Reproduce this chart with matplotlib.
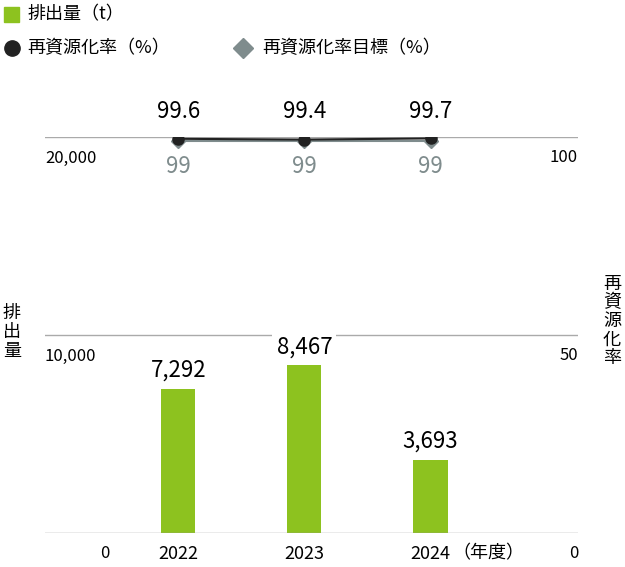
import matplotlib
matplotlib.use("Agg")
import matplotlib.pyplot as plt

plt.rcParams["font.family"] = ["Noto Sans CJK JP", "DejaVu Sans"]

years = ["2022", "2023", "2024"]
emissions = [7292, 8467, 3693]
recycle_rate = [99.6, 99.4, 99.7]
recycle_target = [99, 99, 99]
left_ticks = [0, 10000, 20000]
right_ticks = [0, 50, 100]

GREEN = "#8dc21f"
GREY = "#7f8c8d"

fig = plt.figure(figsize=(6.25, 5.67), dpi=100)
ax = fig.add_axes([0.072, 0.06, 0.853, 0.698])
xs = list(range(len(years)))
ax.set_xlim(-1.056, 3.17)
ax.set_ylim(0, 20000)
for s in ax.spines.values():
    s.set_visible(False)
ax.set_xticks([])
ax.set_yticks([])

for t in left_ticks[1:]:
    ax.axhline(t, color="#aaaaaa", lw=1, zorder=0)
ax.axhline(0, color="#999999", lw=1, zorder=3)

ax.bar(xs, emissions, width=0.27, color=GREEN, zorder=2)
for x, v in zip(xs, emissions):
    ax.text(x, v + 350, f"{v:,}", ha="center", va="bottom", fontsize=16,
            bbox=dict(fc="white", ec="none", pad=3), zorder=4)

ax2 = ax.twinx()
ax2.set_ylim(0, 100)
ax2.axis("off")
ax2.plot(xs, recycle_target, color=GREY, marker="D", ms=7, lw=1.5, zorder=3)
ax2.plot(xs, recycle_rate, color="#222222", marker="o", ms=8, lw=1.5, zorder=4)
for x, v, t in zip(xs, recycle_rate, recycle_target):
    ax2.text(x, 103.5, f"{v}", ha="center", va="bottom", fontsize=16)
    ax2.text(x, 95.5, f"{t}", ha="center", va="top", fontsize=16, color=GREY)

# tick labels (below their gridlines)
for t in left_ticks:
    lbl = f"{t:,}"
    y = 1 - (533 - t / 20000 * 396 + 21) / 567
    if t == 0:
        fig.text(100 / 625, y, lbl, ha="left", va="center", fontsize=12)
    else:
        fig.text(45 / 625, y, lbl, ha="left", va="center", fontsize=12)
for t in right_ticks:
    y = 1 - (533 - t / 100 * 396 + 21) / 567
    fig.text(578 / 625, y, str(t), ha="right", va="center", fontsize=12)

for x, yr in zip(xs, years):
    ax.text(x, -1050, yr, ha="center", va="center", fontsize=13)
ax.text(2.17, -1050, "（年度）", ha="left", va="center", fontsize=13)

# axis titles (vertical stacked)
fig.text(12 / 625, 1 - 332 / 567, "排\n出\n量", ha="center", va="center",
         fontsize=13, linespacing=1.05)
fig.text(612 / 625, 1 - 321 / 567, "再\n資\n源\n化\n率", ha="center", va="center",
         fontsize=13, linespacing=1.05)

# legend
fig.patches.append(plt.Rectangle((4 / 625, 1 - 22 / 567), 15 / 625, 15 / 567,
                                 transform=fig.transFigure, color=GREEN))
fig.text(27 / 625, 1 - 14 / 567, "排出量（t）", va="center", fontsize=13)
fig.lines.append(plt.Line2D([12 / 625], [1 - 48 / 567], marker="o", ms=11,
                            color="#222222", transform=fig.transFigure))
fig.text(27 / 625, 1 - 48 / 567, "再資源化率（%）", va="center", fontsize=13)
fig.lines.append(plt.Line2D([243 / 625], [1 - 48 / 567], marker="D", ms=10,
                            color=GREY, transform=fig.transFigure))
fig.text(262 / 625, 1 - 48 / 567, "再資源化率目標（%）", va="center", fontsize=13)

fig.savefig("out.png")
